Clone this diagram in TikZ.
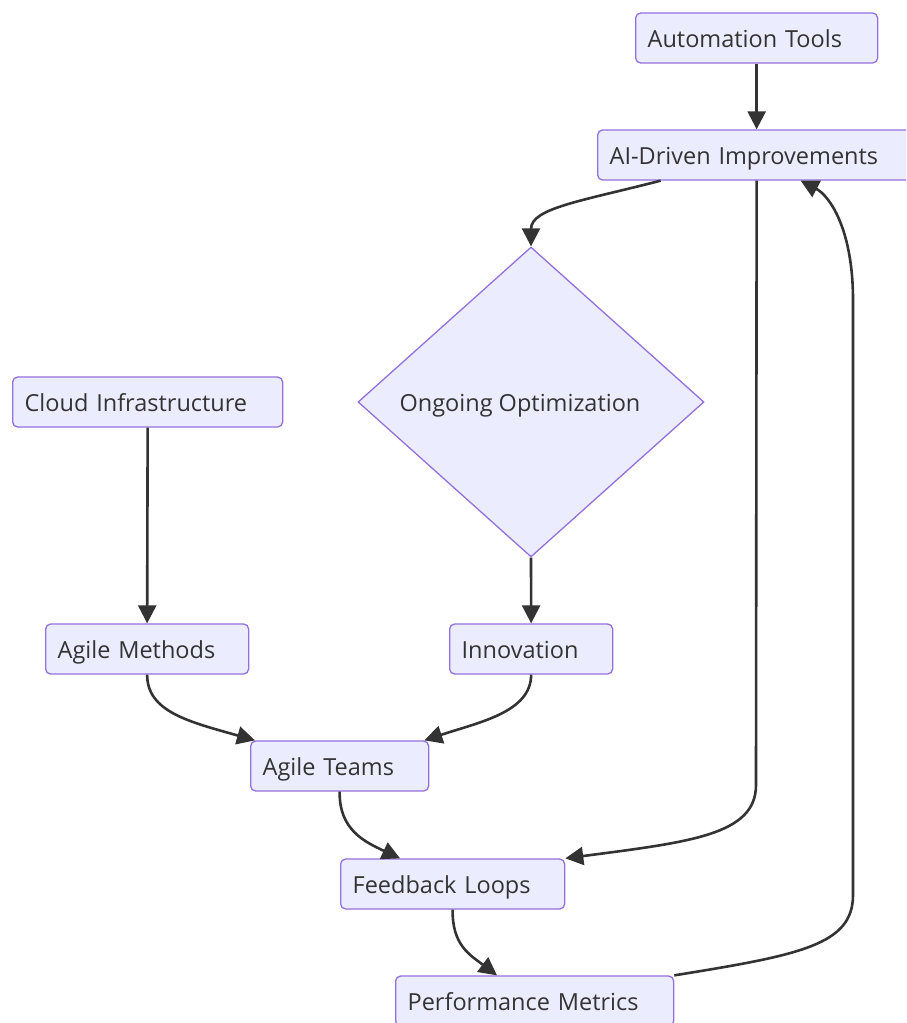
\documentclass[tikz,border=0pt]{standalone}
\usepackage{fontspec}
\setmainfont{Open Sans}
\usetikzlibrary{arrows.meta,shapes.geometric}
\definecolor{mfill}{HTML}{ECECFF}
\definecolor{mstroke}{HTML}{9370DB}
\definecolor{medge}{HTML}{333333}
\definecolor{mtext}{HTML}{333333}
\tikzset{
  box/.style={draw=mstroke, fill=mfill, line width=1.3pt, rounded corners=5pt,
    minimum height=50pt, inner xsep=12pt, inner ysep=0pt, align=left,
    text height=18pt, text depth=0pt,
    anchor=west, text=mtext, font=\fontsize{23.5}{28}\selectfont},
  decision/.style={diamond, draw=mstroke, fill=mfill, line width=1.3pt,
    minimum width=346pt, minimum height=310pt, inner sep=0pt, text=mtext,
    text height=18pt, text depth=0pt,
    font=\fontsize{23.5}{28}\selectfont},
  conn/.style={draw=medge, line width=2.6pt,
    -{Triangle[length=18pt,width=18pt]}}
}
\begin{document}
\begin{tikzpicture}[x=1pt,y=-1pt]
\useasboundingbox (0,0) rectangle (906,1023);
\begin{scope}
\clip (0,0) rectangle (906,1023);
\node[box, text width=330pt] (ai) at (597,155) {AI-Driven Improvements};
\end{scope}
\node[box, text width=218pt] (auto) at (635,38) {Automation Tools};
\node[decision] (opt) at (531,402) {\hspace*{-22pt}Ongoing Optimization};
\node[box, text width=246pt] (cloud) at (12,402) {Cloud Infrastructure};
\node[box, text width=179pt] (am) at (45,649) {Agile Methods};
\node[box, text width=139pt] (inn) at (449,649) {Innovation};
\node[box, text width=154pt] (at) at (250,766) {Agile Teams};
\node[box, text width=200pt] (fb) at (340,884) {Feedback Loops};
\node[box, text width=254pt] (pm) at (395,1001) {Performance Metrics};

\draw[conn] (auto.south) -- (ai.north -| auto.south);
\draw[conn] ([xshift=-96pt]ai.south -| auto.south) .. controls (582,201) and (531,208) .. (opt.north);
\draw[conn] (ai.south -| auto.south) -- (756,785) .. controls (756,835) and (690,842) .. (fb.north east);
\draw[conn] (pm.north east) .. controls (800,955) and (853,945) .. (853,895)
  -- (853,300) .. controls (853,230) and (830,196) .. ([xshift=44pt]ai.south -| auto.south);
\draw[conn] (cloud.south) -- (am.north);
\draw[conn] (opt.south) -- (inn.north);
\draw[conn] (am.south) .. controls (147,712) and (190,722) .. ([xshift=5pt]at.north west);
\draw[conn] (inn.south) .. controls (531,712) and (480,722) .. ([xshift=-5pt]at.north east);
\draw[conn] (at.south) .. controls (339,830) and (365,842) .. ([xshift=60pt]fb.north west);
\draw[conn] (fb.south) .. controls (452,945) and (470,955) .. ([xshift=102pt]pm.north west);
\end{tikzpicture}
\end{document}
